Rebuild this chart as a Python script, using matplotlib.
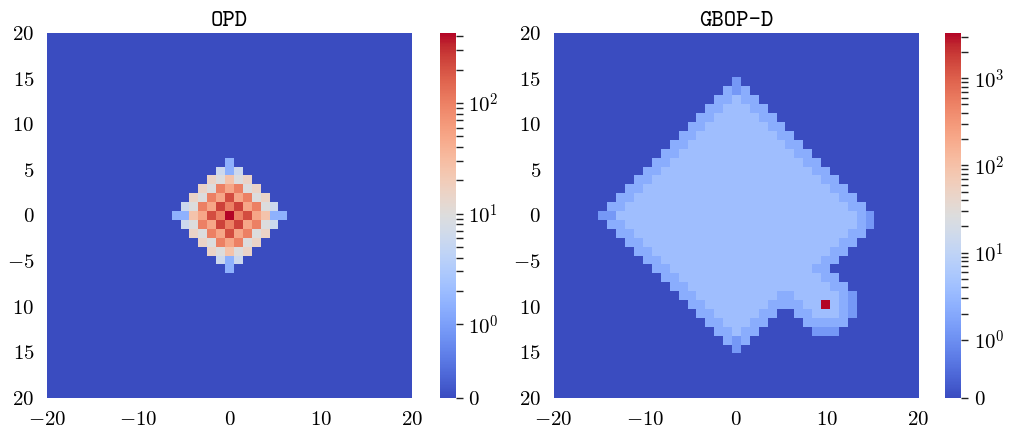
import numpy as np
import matplotlib
matplotlib.use("Agg")
import matplotlib.pyplot as plt
from matplotlib.colors import SymLogNorm
from matplotlib.ticker import FixedLocator

plt.rcParams["mathtext.fontset"] = "cm"
plt.rcParams["font.family"] = "cmr10"

# cell levels (codes -> value)
opd_levels = {".": 0, "t": 1.5, "l": 6, "g": 9.5, "h": 15, "e": 25, "p": 50,
              "s": 50, "k": 100, "q": 214, "r": 250, "Z": 430}
gbop_levels = {".": 0, "a": 1.3, "b": 2.3, "c": 4.0, "R": 3300}

# run-length rows, top row first (count + code)
opd_rows = ["41."] * 14 + [
    "20. t 20.",
    "19. l t l 19.",
    "18. h g e g h 18.",
    "17. h g k p k g h 17.",
    "16. h g k s q s k g h 16.",
    "15. l g k s r k r s k g l 15.",
    "14. t t e p q k Z k q p e t t 14.",
    "15. l g k s r k r s k g l 15.",
    "16. h g k s q s k g h 16.",
    "17. h g k p k g h 17.",
    "18. h g e g h 18.",
    "19. l t l 19.",
    "20. t 20.",
] + ["41."] * 14

gbop_rows = ["41."] * 5 + [
    "20. a 20.",
    "19. b a b 19.",
    "18. 2b c 2b 18.",
    "17. 2b 3c 2b 17.",
    "16. 2b 5c 2b 16.",
    "15. 2b 7c 2b 15.",
    "14. 2b 9c 2b 14.",
    "13. 2b 11c 2b 13.",
    "12. 2b 13c 2b 12.",
    "11. 2b 15c 2b 11.",
    "10. 2b 17c 2b 10.",
    "9. 2b 19c 2b 9.",
    "8. 2b 21c 2b 8.",
    "7. 2b 23c 2b 7.",
    "6. 2b 25c 2b 6.",
    "5. 2a 27c b a 5.",
    "6. 2b 26c b a 5.",
    "7. 2b 24c 2b 6.",
    "8. 2b 22c 2b 7.",
    "9. 2b 20c 2b 8.",
    "10. 2b 18c 2b 9.",
    "11. 2b 16c 2b 10.",
    "12. 2b 16c 2b 9.",
    "13. 2b 16c 2b 8.",
    "14. 2b 9c 2b 5c b a 7.",
    "15. 2b 7c 4b 2c R c b a 7.",
    "16. 2b 5c 2b 2. 2b 3c b a 7.",
    "17. 2b 3c 2b 4. 5b 8.",
    "18. 2b c 2b 6. 3a 9.",
    "19. b a b 19.",
    "20. a 20.",
] + ["41."] * 5

xticks = [-20, -10, 0, 10, 20]
xlabels = ["$-20$", "$-10$", "$0$", "$10$", "$20$"]
yticks = [20, 15, 10, 5, 0, -5, -10, -15, -20]
ylabels = ["$20$", "$15$", "$10$", "$5$", "$0$", "$-5$", "$10$", "$15$", "$20$"]


def expand(rows, levels):
    out = []
    for row in rows:
        cells = ""
        for tok in row.split():
            n = int(tok[:-1]) if len(tok) > 1 else 1
            cells += tok[-1] * n
        out.append([levels[ch] for ch in cells])
    return np.array(out, dtype=float)


def panel(ax, cax, title, data, cb_ticks, cb_labels, cb_minor):
    norm = SymLogNorm(linthresh=1, linscale=0.6, vmin=0, vmax=data.max(), base=10)
    im = ax.imshow(data, cmap="coolwarm", norm=norm, extent=(-20, 20, -20, 20),
                   origin="upper", interpolation="nearest", aspect="auto")
    ax.set_title(title, fontsize=17, family="cmtt10", pad=5)
    ax.set_xticks(xticks, labels=xlabels)
    ax.set_yticks(yticks, labels=ylabels)
    ax.tick_params(length=0, pad=9, labelsize=15)
    for s in ax.spines.values():
        s.set_visible(False)

    cb = plt.colorbar(im, cax=cax)
    cb.outline.set_visible(False)
    cb.set_ticks(cb_ticks, labels=cb_labels)
    cax.yaxis.set_minor_locator(FixedLocator(cb_minor))
    cax.tick_params(which="both", length=5, width=1, color="#222222", labelsize=15, pad=4)


W, H = 1010, 436
def box(x0, y0, w, h):
    return [x0 / W, 1 - (y0 + h) / H, w / W, h / H]

fig = plt.figure(figsize=(10.1, 4.36), dpi=100)
ax1 = fig.add_axes(box(47, 33, 365, 365))
cax1 = fig.add_axes(box(439.5, 33, 16.5, 365))
ax2 = fig.add_axes(box(553.5, 33, 365, 365))
cax2 = fig.add_axes(box(944.5, 33, 16.5, 365))

opd = expand(opd_rows, opd_levels)
gbop = expand(gbop_rows, gbop_levels)

panel(ax1, cax1, "OPD", opd,
      [0, 1, 10, 100], ["$0$", "$10^0$", "$10^1$", "$10^2$"],
      [k * 10 ** d for d in (0, 1) for k in range(2, 10)] + [200, 300, 400])
panel(ax2, cax2, "GBOP-D", gbop,
      [0, 1, 10, 100, 1000], ["$0$", "$10^0$", "$10^1$", "$10^2$", "$10^3$"],
      [k * 10 ** d for d in (0, 1, 2) for k in range(2, 10)] + [2000, 3000])

fig.savefig("out.png", dpi=100)
